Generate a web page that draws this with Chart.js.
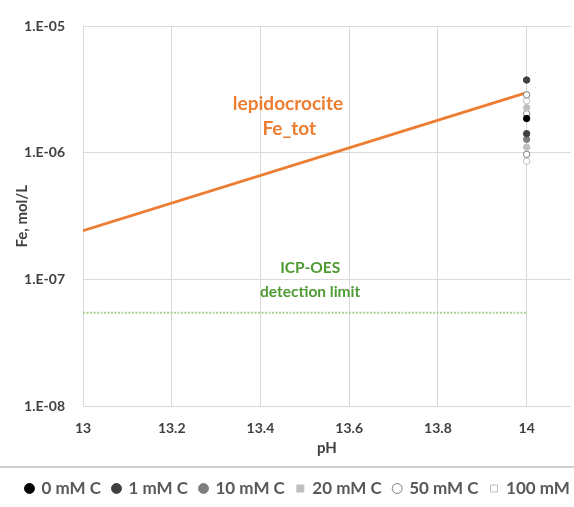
<!DOCTYPE html>
<html><head><meta charset="utf-8">
<script src="https://cdn.jsdelivr.net/npm/chart.js@4"></script>
<style>html,body{margin:0;padding:0;background:#fff;overflow:hidden;width:574px;height:507px}#wrap{width:640px;height:507px}</style>
</head><body><div id="wrap"><canvas id="c" width="640" height="507"></canvas></div>
<script>
const xTicks = [13, 13.2, 13.4, 13.6, 13.8, 14];
const yTicks = [1e-8, 1e-7, 1e-6, 1e-5];
const lepidoX = [13, 14];
const lepidoY = [2.43e-7, 3.0e-6];
const icpX = [13, 14];
const icpY = [5.45e-8, 5.45e-8];
const seriesNames = ['0 mM C', '1 mM C', '10 mM C', '20 mM C', '50 mM C', '100 mM C'];
const seriesPH = 14;
const seriesValues = [
  [1.87e-6],
  [3.77e-6, 1.42e-6],
  [1.28e-6],
  [2.28e-6, 1.11e-6],
  [2.88e-6, 2.04e-6, 0.975e-6],
  [2.58e-6, 0.86e-6]
];
const fills = ['#000000', '#404040', '#7f7f7f', '#bfbfbf', '#ffffff', '#ffffff'];
const borders = ['#000000', '#404040', '#7f7f7f', '#bfbfbf', '#7f7f7f', '#bfbfbf'];
const shapes = ['circle', 'circle', 'circle', 'rect', 'circle', 'rect'];

const FONT = 'Lato, "Open Sans", sans-serif';
const pts = (xs, ys) => xs.map((x, i) => ({x, y: ys[i]}));

const datasets = [
  {label: 'lepidocrocite', data: pts(lepidoX, lepidoY), showLine: true, borderColor: '#ED7D31', borderWidth: 2.8, pointRadius: 0, order: 2},
  {label: 'ICP', data: pts(icpX, icpY), showLine: true, borderColor: '#A9D18E', borderWidth: 2, borderDash: [2, 1.5], pointRadius: 0, order: 2}
];
seriesNames.forEach((n, i) => {
  datasets.push({
    label: n,
    data: seriesValues[i].map(v => ({x: seriesPH, y: v})),
    showLine: false,
    backgroundColor: fills[i], borderColor: borders[i], borderWidth: 1,
    pointStyle: 'circle', pointRadius: 3.2, order: 1,
    legendStyle: shapes[i]
  });
});

const annot = {
  id: 'annot',
  afterLayout(chart) {
    const lg = chart.legend;
    if (lg) { lg.left += 1; lg.right += 1; }
  },
  afterDatasetsDraw(chart) {
    const {ctx, scales: {x, y}} = chart;
    ctx.save();
    ctx.textAlign = 'center'; ctx.textBaseline = 'middle';
    ctx.fillStyle = '#ED7D31';
    ctx.font = 'bold 19px ' + FONT;
    ctx.fillText('lepidocrocite', x.getPixelForValue(13.462), y.getPixelForValue(2.45e-6));
    ctx.fillText('Fe_tot', x.getPixelForValue(13.465), y.getPixelForValue(1.56e-6));
    ctx.fillStyle = '#4E9A33';
    ctx.font = 'bold 15.5px ' + FONT;
    ctx.fillText('ICP-OES', x.getPixelForValue(13.512), y.getPixelForValue(1.23e-7));
    ctx.fillText('detection limit', x.getPixelForValue(13.512), y.getPixelForValue(7.97e-8));
    ctx.restore();
  },
  afterDraw(chart) {
    const ctx = chart.ctx;
    ctx.save();
    ctx.strokeStyle = '#cfcfcf'; ctx.lineWidth = 2;
    ctx.beginPath(); ctx.moveTo(0, 467); ctx.lineTo(chart.width, 467); ctx.stroke();
    ctx.restore();
  }
};

new Chart(document.getElementById('c'), {
  type: 'scatter',
  data: {datasets},
  plugins: [annot],
  options: {
    responsive: false, animation: false,
    layout: {padding: {left: 13, right: 0, top: 19, bottom: 0}},
    plugins: {
      tooltip: {enabled: false},
      legend: {
        position: 'bottom', align: 'start',
        labels: {
          filter: (item) => item.datasetIndex >= 2,
          usePointStyle: true, boxWidth: 7, boxHeight: 7, padding: 12,
          color: '#595959', font: {family: FONT, size: 17, weight: 'bold'},
          generateLabels(chart) {
            return chart.data.datasets.map((d, i) => ({
              text: d.label, fillStyle: d.backgroundColor, strokeStyle: d.borderColor,
              lineWidth: 1, pointStyle: d.legendStyle || 'circle', datasetIndex: i, hidden: false, fontColor: '#595959'
            }));
          }
        }
      }
    },
    scales: {
      x: {
        type: 'linear', min: 13, max: 14.1,
        afterBuildTicks: s => { s.ticks = xTicks.map(v => ({value: v})); },
        afterFit: s => { s.height = 62; },
        grid: {color: '#d9d9d9', drawTicks: false},
        border: {display: false},
        ticks: {padding: 14, color: '#404040', font: {family: FONT, size: 14, weight: 'bold'}, callback: v => String(v)},
        title: {display: true, text: 'pH', color: '#404040', padding: {top: 0, bottom: 11}, font: {family: FONT, size: 15, weight: 'bold'}}
      },
      y: {
        type: 'logarithmic', min: 1e-8, max: 1e-5,
        afterBuildTicks: s => { s.ticks = yTicks.map(v => ({value: v})); },
        afterFit: s => { s.width = 70; },
        grid: {color: '#d9d9d9', drawTicks: false},
        border: {display: false},
        ticks: {padding: 18, color: '#404040', font: {family: FONT, size: 14, weight: 'bold'},
          callback: v => '1.E-' + String(Math.round(-Math.log10(v))).padStart(2, '0')},
        title: {display: true, text: 'Fe, mol/L', color: '#404040', padding: {top: 0, bottom: 4}, font: {family: FONT, size: 15, weight: 'bold'}}
      },
      spacer: {
        type: 'linear', position: 'right', min: 0, max: 1,
        afterFit: s => { s.width = 69; },
        grid: {display: false}, border: {display: false},
        ticks: {display: false}
      }
    }
  }
});
</script></body></html>
